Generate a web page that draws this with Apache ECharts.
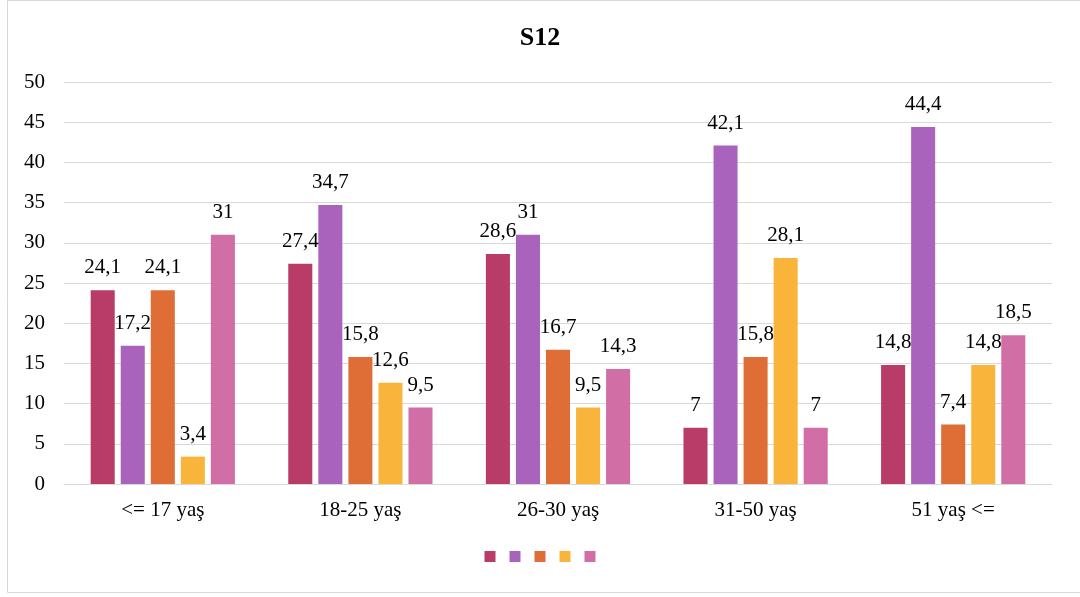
<!DOCTYPE html>
<html><head><meta charset="utf-8">
<script src="https://cdn.jsdelivr.net/npm/echarts@6/dist/echarts.min.js"></script>
<style>html,body{margin:0;padding:0;background:#fff}#c{width:1080px;height:597px}</style>
</head><body><div id="c"></div>
<script>
const categories = ['<= 17 yaş', '18-25 yaş', '26-30 yaş', '31-50 yaş', '51 yaş <='];
const s1 = [24.1, 27.4, 28.6, 7, 14.8];
const s2 = [17.2, 34.7, 31, 42.1, 44.4];
const s3 = [24.1, 15.8, 16.7, 15.8, 7.4];
const s4 = [3.4, 12.6, 9.5, 28.1, 14.8];
const s5 = [31, 9.5, 14.3, 7, 18.5];
const seriesNames = ['A', 'B', 'C', 'D', 'E'];
const colors = ['#B83C67', '#A963BC', '#DE6D36', '#F9B53B', '#D06EA5'];
const yTicks = {min: 0, max: 50, interval: 5};

const font = '"Liberation Serif", "Times New Roman", serif';
const data = [s1, s2, s3, s4, s5];
const chart = echarts.init(document.getElementById('c'));
chart.setOption({
  animation: false,
  color: colors,
  graphic: [{type: 'rect', shape: {x: 7.5, y: 0.5, width: 1100, height: 592}, style: {fill: 'none', stroke: '#d9d9d9', lineWidth: 1}, silent: true}],
  title: {text: 'S12', left: 'center', top: 20, textStyle: {fontFamily: font, fontSize: 26, fontWeight: 'bold', color: '#000'}},
  legend: {bottom: 30, left: 'center', itemWidth: 11, itemHeight: 11, itemGap: 14, icon: 'rect', formatter: () => '', textStyle: {padding: 0}},
  grid: {left: 64, right: 28, top: 82, bottom: 113},
  xAxis: {type: 'category', data: categories,
    axisLine: {lineStyle: {color: '#d9d9d9', width: 1}}, axisTick: {show: false},
    axisLabel: {fontFamily: font, fontSize: 21, color: '#000', margin: 16}},
  yAxis: {type: 'value', min: yTicks.min, max: yTicks.max, interval: yTicks.interval,
    splitLine: {lineStyle: {color: '#d9d9d9', width: 1}}, axisLine: {show: false}, axisTick: {show: false},
    axisLabel: {fontFamily: font, fontSize: 21, color: '#000', margin: 19}},
  series: data.map((d, i) => ({
    type: 'bar', name: seriesNames[i], data: d,
    barGap: '25%', barCategoryGap: '27%',
    itemStyle: {color: colors[i]},
    label: {show: true, position: 'top', distance: 12, fontFamily: font, fontSize: 21, color: '#000',
      formatter: p => String(p.value).replace('.', ',')}
  }))
});
</script></body></html>
